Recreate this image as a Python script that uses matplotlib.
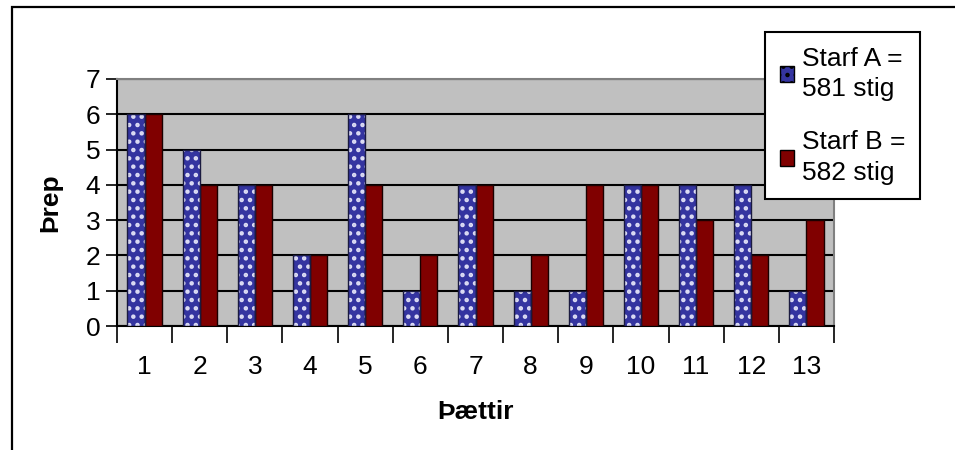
import matplotlib
matplotlib.use("Agg")
import matplotlib.pyplot as plt
import matplotlib.patches as mpatches
import numpy as np

plt.rcParams['font.family'] = ['Liberation Sans', 'DejaVu Sans']
plt.rcParams['hatch.linewidth'] = 2.0

categories = ['1', '2', '3', '4', '5', '6', '7', '8', '9', '10', '11', '12', '13']
starf_a = [6, 5, 4, 2, 6, 1, 4, 1, 1, 4, 4, 4, 1]
starf_b = [6, 4, 4, 2, 4, 2, 4, 2, 4, 4, 3, 2, 3]
label_a = 'Starf A =\n581 stig'
label_b = 'Starf B =\n582 stig'
yticks = [0, 1, 2, 3, 4, 5, 6, 7]

FS = 19

fig = plt.figure(figsize=(9.55, 4.5), dpi=100)
fig.patches.append(mpatches.Rectangle((12/955, -0.2), 1.0, 1.2 - 7/450,
                                      transform=fig.transFigure, fill=False,
                                      edgecolor='black', linewidth=1.6, zorder=0))
ax = fig.add_axes([117/955, 1-326/450, (834-117)/955, (326-79)/450])
ax.set_facecolor('#c0c0c0')

x = np.arange(1, len(categories) + 1)
w = 0.31
blue = '#3434a0'
red = '#800000'
ax.bar(x - w/2, starf_a, w, color=blue, edgecolor='#dcdcf4', hatch='..', linewidth=0, zorder=3)
ax.bar(x - w/2, starf_a, w, fill=False, edgecolor='#1a1a40', linewidth=1.0, zorder=4)
ax.bar(x + w/2, starf_b, w, color=red, edgecolor='#1a0000', linewidth=1.0, zorder=3)

ax.set_xlim(0.5, len(categories) + 0.5)
ax.set_ylim(0, 7)
ax.set_yticks(yticks)
ax.yaxis.grid(True, color='black', linewidth=1.5, zorder=1)
ax.set_axisbelow(True)

ax.set_xticks(np.arange(0.5, len(categories) + 1, 1))
ax.set_xticklabels([])
ax.set_xticks(x, minor=True)
ax.set_xticklabels(categories, minor=True)
ax.tick_params(axis='x', which='major', length=12, width=1.2, direction='out')
ax.tick_params(axis='x', which='minor', length=0, pad=21, labelsize=FS)
ax.tick_params(axis='y', length=8, width=1.2, direction='out', labelsize=FS, pad=4)

for s in ['left', 'bottom']:
    ax.spines[s].set_linewidth(1.5)
    ax.spines[s].set_color('black')
for s in ['top', 'right']:
    ax.spines[s].set_color('#808080')
    ax.spines[s].set_linewidth(1.5)

fig.text(50/955, 1-203/450, 'Þrep', rotation=90, ha='center', va='center',
         fontsize=FS, fontweight='bold')
fig.text(475/955, 1-412/450, 'Þættir', ha='center', va='center',
         fontsize=FS, fontweight='bold')

h_a = mpatches.Patch(facecolor=blue, edgecolor='black', hatch='..')
h_b = mpatches.Patch(facecolor=red, edgecolor='black')
leg = fig.legend([h_a, h_b], [label_a, label_b], loc='upper left',
                 bbox_to_anchor=(765/955, 1-32/450), fontsize=FS,
                 frameon=True, fancybox=False, framealpha=1, edgecolor='black',
                 handlelength=0.55, handleheight=0.55, handletextpad=0.3,
                 labelspacing=1.1, borderpad=0.55, borderaxespad=0)
leg.get_frame().set_linewidth(1.5)
for t in leg.get_texts():
    t.set_linespacing(1.35)

fig.savefig('out.png', dpi=100)
